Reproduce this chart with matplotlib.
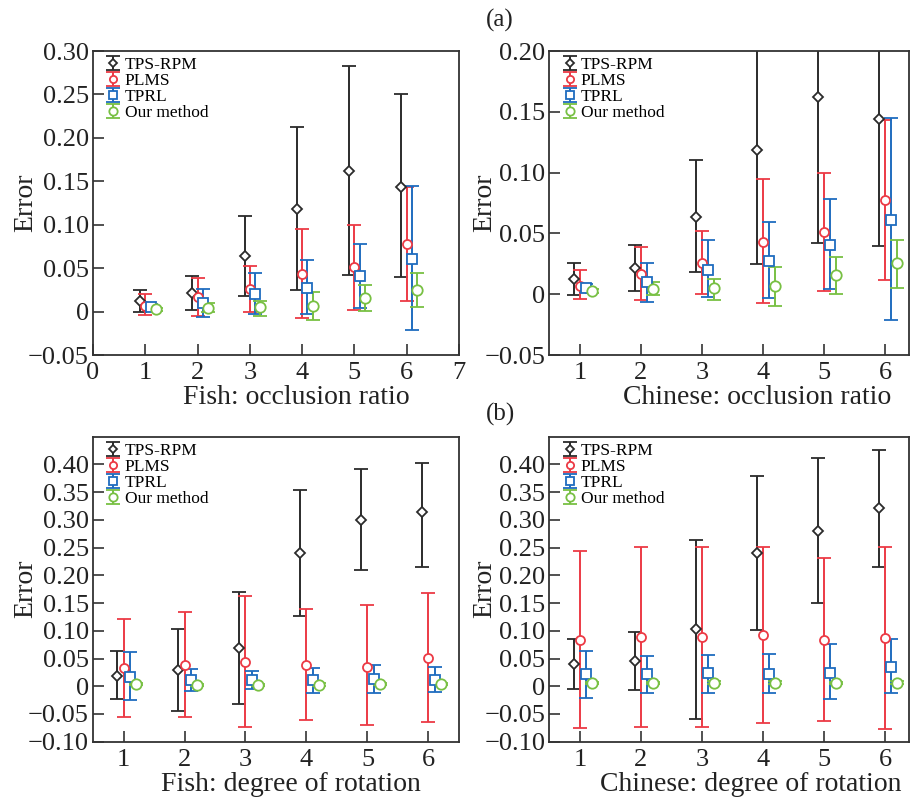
import matplotlib
matplotlib.use('Agg')
import matplotlib.pyplot as plt
from matplotlib.container import ErrorbarContainer
from matplotlib.legend_handler import HandlerErrorbar
import numpy as np

plt.rcParams['font.family'] = ['Liberation Serif', 'DejaVu Serif']

methods = ['TPS-RPM', 'PLMS', 'TPRL', 'Our method']
groups = [1, 2, 3, 4, 5, 6]

# occlusion (same numbers in fish and chinese plots)
occ_mean = [[0.0123, 0.0215, 0.0638, 0.1185, 0.162, 0.144],
            [0.0069, 0.0165, 0.026, 0.043, 0.051, 0.0773],
            [0.0054, 0.0104, 0.020, 0.0277, 0.0408, 0.061],
            [0.0027, 0.0042, 0.005, 0.0069, 0.0158, 0.0254]]
occ_hi = [[0.0254, 0.0408, 0.110, 0.213, 0.283, 0.250],
          [0.020, 0.0385, 0.052, 0.095, 0.100, 0.143],
          [0.0085, 0.026, 0.0446, 0.059, 0.078, 0.1446],
          [0.0045, 0.010, 0.0123, 0.0223, 0.0304, 0.0446]]
occ_lo = [[-0.001, 0.0023, 0.018, 0.0246, 0.042, 0.0396],
          [-0.004, -0.005, 0.0, -0.0073, 0.0023, 0.012],
          [0.0015, -0.006, -0.0027, -0.003, 0.0046, -0.0215],
          [0.001, -0.0004, -0.0046, -0.010, 0.0004, 0.005]]

# rotation, fish
fish_rot_mean = [[0.018, 0.0301, 0.0687, 0.2404, 0.2994, 0.315],
                 [0.0331, 0.0386, 0.0434, 0.0386, 0.0355, 0.0518],
                 [0.0169, 0.0114, 0.012, 0.0108, 0.0139, 0.0114],
                 [0.0042, 0.0024, 0.0018, 0.003, 0.0036, 0.0042]]
fish_rot_hi = [[0.0639, 0.1036, 0.1705, 0.3536, 0.391, 0.4018],
               [0.1205, 0.1337, 0.163, 0.1398, 0.147, 0.168],
               [0.062, 0.032, 0.0283, 0.0337, 0.0386, 0.0355],
               [0.0062, 0.0044, 0.0038, 0.005, 0.0056, 0.0062]]
fish_rot_lo = [[-0.0235, -0.0446, -0.032, 0.1259, 0.2096, 0.2145],
               [-0.0554, -0.0554, -0.0729, -0.060, -0.0705, -0.0639],
               [-0.024, -0.0084, -0.0048, -0.0114, -0.012, -0.0102],
               [0.0022, 0.0004, -0.0002, 0.001, 0.0016, 0.0022]]

# rotation, chinese
chn_rot_mean = [[0.0404, 0.0452, 0.1036, 0.241, 0.2801, 0.3211],
                [0.0837, 0.0892, 0.088, 0.0922, 0.0837, 0.0873],
                [0.0223, 0.0223, 0.0235, 0.0223, 0.0247, 0.0349],
                [0.0054, 0.0054, 0.0066, 0.0066, 0.006, 0.0066]]
chn_rot_hi = [[0.0855, 0.0976, 0.2633, 0.380, 0.4108, 0.4265],
              [0.2434, 0.2506, 0.2506, 0.2518, 0.2313, 0.2518],
              [0.0633, 0.0548, 0.0566, 0.059, 0.0771, 0.0855],
              [0.0074, 0.0074, 0.0086, 0.0086, 0.008, 0.0086]]
chn_rot_lo = [[-0.0042, -0.0072, -0.0584, 0.1006, 0.1506, 0.2157],
              [-0.0759, -0.0729, -0.0729, -0.0657, -0.062, -0.0771],
              [-0.0205, -0.0127, -0.0127, -0.0127, -0.0235, -0.0127],
              [0.0034, 0.0034, 0.0046, 0.0046, 0.004, 0.0046]]

colors = ['#2b2b2b', '#ec3a45', '#1f6cbf', '#78c043']
markers = ['D', 'o', 's', 'o']
msizes = [5.5, 6.5, 6.5, 7.5]
offsets = [-0.1, 0.0, 0.1, 0.2]


def fmt_tick(v):
    if abs(v) < 1e-9:
        return '0'
    s = '%.2f' % abs(v)
    return ('\u2212' + s) if v < 0 else s


def draw_panel(ax, mean, hi, lo, xlabel, xlab_x, ylim, yticks, xlim, xticks):
    for k in range(4):
        x = np.array(groups) + offsets[k]
        m = np.array(mean[k])
        err = [m - np.array(lo[k]), np.array(hi[k]) - m]
        ax.errorbar(x, m, yerr=err, fmt=markers[k], color=colors[k], mfc='white',
                    mec=colors[k], ms=msizes[k], mew=1.3, elinewidth=1.4,
                    capsize=5, capthick=1.4, label=methods[k])
    ax.set_xlim(*xlim)
    ax.set_ylim(*ylim)
    ax.set_xticks(xticks)
    ax.set_xticklabels([str(t) for t in xticks])
    ax.set_yticks(yticks)
    ax.set_yticklabels([fmt_tick(v) for v in yticks])
    ax.tick_params(direction='in', length=8, width=1.2, labelsize=19,
                   top=False, right=False, colors='#333333', labelcolor='#222222')
    ax.tick_params(axis='y', pad=3)
    ax.tick_params(axis='x', pad=5)
    for sp in ax.spines.values():
        sp.set_linewidth(1.3)
        sp.set_color('#333333')
    ax.set_xlabel(xlabel, fontsize=20, color='#222222')
    ax.xaxis.set_label_coords(xlab_x, -0.1)
    ax.set_ylabel('Error', fontsize=20, color='#222222')
    ax.legend(loc='upper left', bbox_to_anchor=(0.025, 0.998), frameon=False,
              fontsize=12.5, handlelength=0.7, handletextpad=0.3,
              labelspacing=0.0, borderaxespad=0.0, borderpad=0.3, markerscale=0.8,
              handler_map={ErrorbarContainer: HandlerErrorbar(xerr_size=0.4)})


fig = plt.figure(figsize=(9.11, 8.01), dpi=100)
ax1 = fig.add_axes([0.1021, 0.5568, 0.4017, 0.3795])
ax2 = fig.add_axes([0.6030, 0.5568, 0.3952, 0.3795])
ax3 = fig.add_axes([0.1021, 0.0740, 0.4017, 0.3808])
ax4 = fig.add_axes([0.6030, 0.0740, 0.3952, 0.3808])

occ_ticks = [-0.05, 0, 0.05, 0.10, 0.15, 0.20, 0.25, 0.30]
draw_panel(ax1, occ_mean, occ_hi, occ_lo, 'Fish: occlusion ratio', 0.555,
           (-0.05, 0.30), occ_ticks, (0, 7), [0, 1, 2, 3, 4, 5, 6, 7])
draw_panel(ax2, occ_mean, occ_hi, occ_lo, 'Chinese: occlusion ratio', 0.576,
           (-0.05, 0.20), occ_ticks[:6], (0.5, 6.4), groups)

rot_ticks = [-0.10, -0.05, 0, 0.05, 0.10, 0.15, 0.20, 0.25, 0.30, 0.35, 0.40]
draw_panel(ax3, fish_rot_mean, fish_rot_hi, fish_rot_lo, 'Fish: degree of rotation', 0.54,
           (-0.10, 0.45), rot_ticks, (0.5, 6.5), groups)
draw_panel(ax4, chn_rot_mean, chn_rot_hi, chn_rot_lo, 'Chinese: degree of rotation', 0.56,
           (-0.10, 0.45), rot_ticks, (0.5, 6.4), groups)

ax1.yaxis.set_label_coords(-0.15, 0.5)
ax3.yaxis.set_label_coords(-0.15, 0.5)
ax2.yaxis.set_label_coords(-0.144, 0.5)
ax4.yaxis.set_label_coords(-0.144, 0.5)

fig.text(0.549, 0.975, '(a)', fontsize=18, ha='center', va='center', color='#222222')
fig.text(0.549, 0.482, '(b)', fontsize=18, ha='center', va='center', color='#222222')

fig.savefig('out.png', dpi=100)
